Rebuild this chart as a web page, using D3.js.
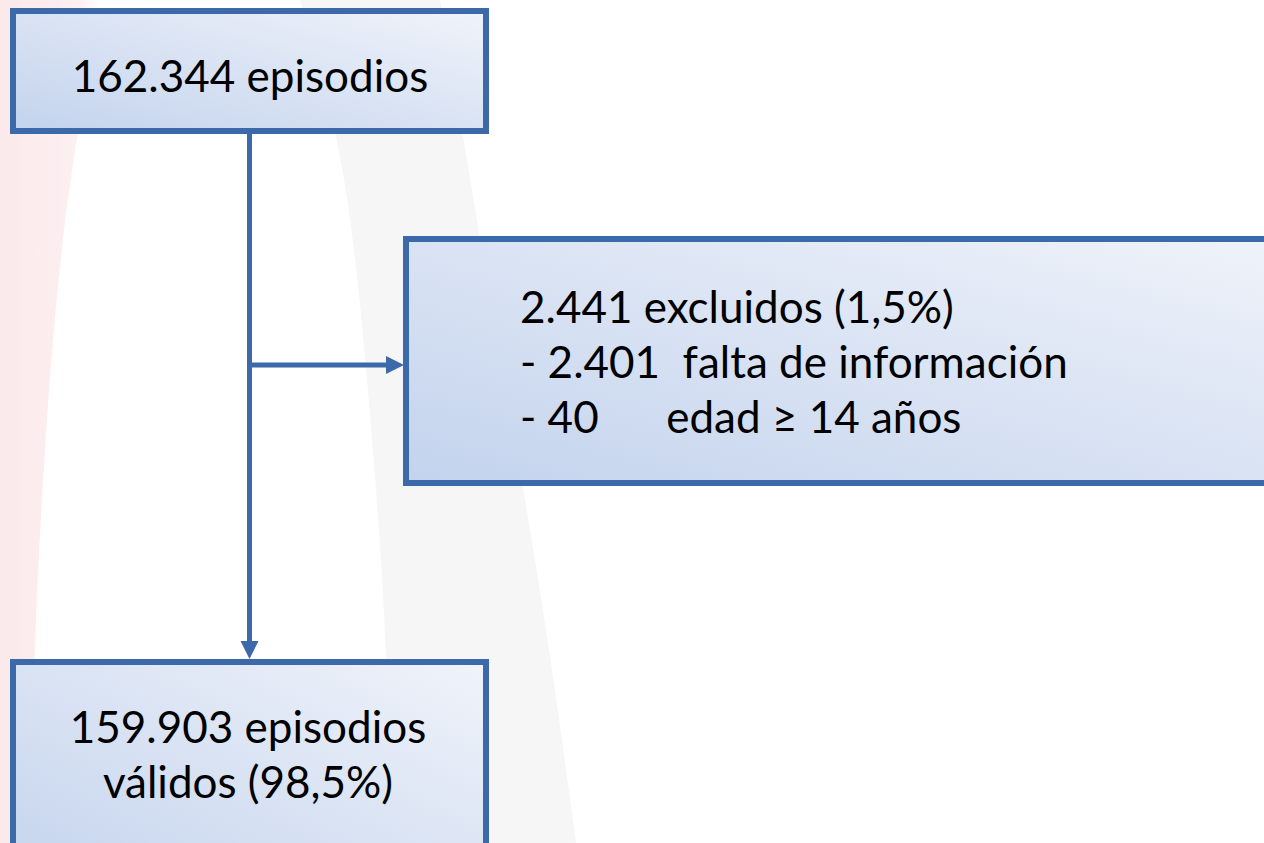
<!DOCTYPE html>
<html>
<head>
<meta charset="utf-8">
<script src="https://cdn.jsdelivr.net/npm/d3@7"></script>
<style>
  html, body { margin: 0; padding: 0; background: #ffffff; }
  svg { display: block; }
  text { font-family: Lato, "Open Sans", sans-serif; fill: #000; white-space: pre; }
</style>
</head>
<body>
<div id="flow"></div>
<script>
// flow diagram texts
var topLines = ["162.344 episodios"];
var excludedLines = ["2.441 excluidos (1,5%)", "- 2.401  falta de información", "- 40      edad \u2265 14 años"];
var validLines = ["159.903 episodios", "válidos (98,5%)"];

var width = 1264, height = 843;
var stroke = "#3c69a9", strokeW = 6;
var fontSize = 44, lineGap = 55;

var svg = d3.select("#flow")
  .append("svg")
  .attr("width", width)
  .attr("height", height);

var defs = svg.append("defs");

var grad = defs.append("linearGradient")
  .attr("id", "boxFill")
  .attr("x1", 0).attr("y1", 1)
  .attr("x2", 1).attr("y2", 0);
grad.append("stop").attr("offset", 0).attr("stop-color", "#c3d3ed");
grad.append("stop").attr("offset", 1).attr("stop-color", "#f0f3fa");

var pinkGrad = defs.append("linearGradient")
  .attr("id", "pinkFill")
  .attr("x1", 0).attr("y1", 0).attr("x2", 1).attr("y2", 0);
pinkGrad.append("stop").attr("offset", 0).attr("stop-color", "#fbe9eb");
pinkGrad.append("stop").attr("offset", 0.8).attr("stop-color", "#fcf0f1");
pinkGrad.append("stop").attr("offset", 1).attr("stop-color", "#ffffff");

// faint slide background shapes
var area = d3.area().curve(d3.curveBasis)
  .y(d => d[0]).x0(d => d[1]).x1(d => d[2]);

svg.append("path")
  .attr("d", area([[0, 0, 100], [130, 0, 78], [250, 0, 60], [450, 0, 44], [650, 0, 34], [843, 0, 28]]))
  .attr("fill", "url(#pinkFill)");

svg.append("path")
  .attr("d", area([[0, 300, 440], [130, 337, 462], [250, 356, 482], [480, 376, 522], [650, 387, 550], [843, 392, 576]]))
  .attr("fill", "#f6f6f6");

// boxes
var boxes = [
  { x: 13, y: 11, w: 473, h: 120 },
  { x: 406, y: 239, w: 900, h: 244 },
  { x: 13, y: 662, w: 473, h: 230 }
];

svg.append("g").selectAll("rect")
  .data(boxes)
  .enter()
  .append("rect")
  .attr("x", d => d.x)
  .attr("y", d => d.y)
  .attr("width", d => d.w)
  .attr("height", d => d.h)
  .attr("fill", "url(#boxFill)")
  .attr("stroke", stroke)
  .attr("stroke-width", strokeW);

// connectors
var cx = 249.5, branchY = 365;
var links = svg.append("g").attr("stroke", stroke).attr("stroke-width", 5).attr("fill", "none");
links.append("line").attr("x1", cx).attr("y1", 134).attr("x2", cx).attr("y2", 643);
links.append("line").attr("x1", cx).attr("y1", branchY).attr("x2", 388).attr("y2", branchY);

var heads = svg.append("g").attr("fill", stroke);
heads.append("path").attr("d", d3.line()([[cx - 9, 641], [cx + 9, 641], [cx, 659]]) + "Z");
heads.append("path").attr("d", d3.line()([[386, branchY - 9], [386, branchY + 9], [404, branchY]]) + "Z");

// texts
svg.append("g").selectAll("text")
  .data(topLines)
  .enter()
  .append("text")
  .attr("x", 250)
  .attr("y", (d, i) => 92 + i * lineGap)
  .attr("text-anchor", "middle")
  .attr("font-size", fontSize)
  .text(d => d);

svg.append("g").selectAll("text")
  .data(excludedLines)
  .enter()
  .append("text")
  .attr("x", 520)
  .attr("y", (d, i) => 323 + i * lineGap)
  .attr("font-size", fontSize)
  .text(d => d);

svg.append("g").selectAll("text")
  .data(validLines)
  .enter()
  .append("text")
  .attr("x", 248)
  .attr("y", (d, i) => 743 + i * lineGap)
  .attr("text-anchor", "middle")
  .attr("font-size", fontSize)
  .text(d => d);
</script>
</body>
</html>
